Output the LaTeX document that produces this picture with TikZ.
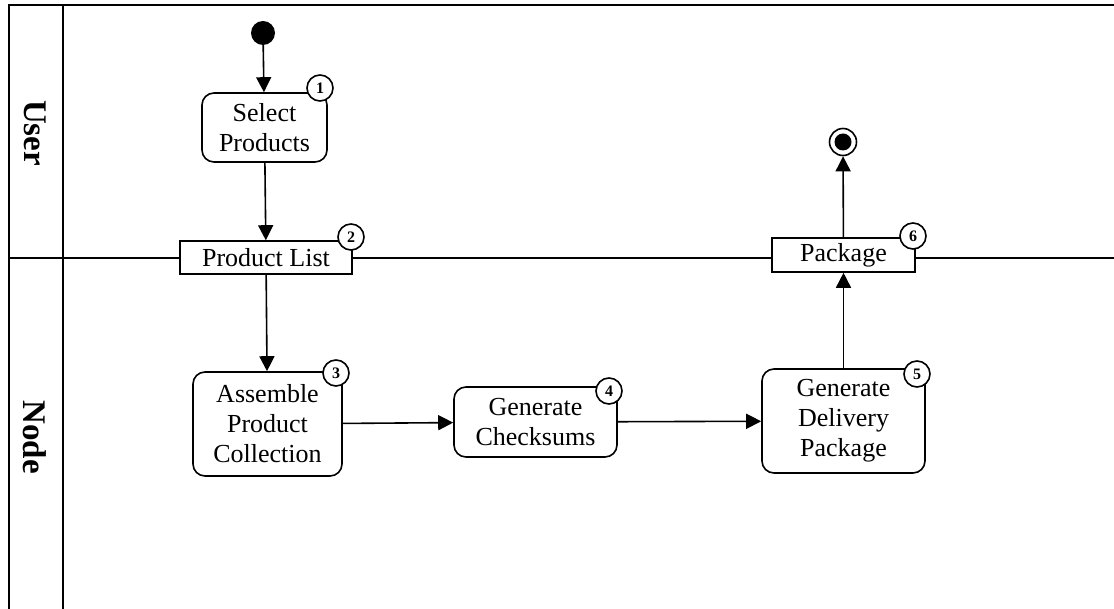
\documentclass[tikz,border=0pt]{standalone}
\usepackage{fontspec}
\setmainfont{Liberation Serif}
\usetikzlibrary{arrows.meta}

\tikzset{
  lane/.style={line width=2pt},
  lanelabel/.style={rotate=-90, font=\fontsize{33}{36}\selectfont\bfseries},
  action/.style={draw, line width=1.6pt, rounded corners=12pt, fill=white, align=center,
    inner sep=0pt, font=\fontsize{26}{30}\selectfont},
  object/.style={draw, line width=1.6pt, fill=white, inner sep=0pt, font=\fontsize{26}{30}\selectfont},
  badge/.style={draw, circle, line width=1.6pt, fill=white, minimum size=26pt, inner sep=0pt,
    font=\fontsize{16}{16}\selectfont\bfseries},
  flow/.style={line width=1.6pt, -{Triangle[length=15pt,width=15pt]}}
}

\begin{document}
\begin{tikzpicture}[x=1pt,y=1pt,yscale=-1,xscale=1]
\useasboundingbox (0,0) rectangle (1114,609);

%Swimlanes
\draw [lane] (9,609) -- (9,5) -- (1114,5) ;
\draw [lane] (63,5) -- (63,609) ;
\draw [lane] (9,258) -- (1114,258) ;

% Lane Labels
\node [lanelabel] (userlane) at (35,133) {User};
\node [lanelabel] (nodelane) at (35,437) {Node};

%Start and End
\node [circle, fill=black, minimum size=24pt, inner sep=0pt] (start) at (263,33) {};
\node [circle, draw, line width=1.6pt, fill=white, minimum size=27pt, inner sep=0pt] (finish) at (843,142) {};
\node [circle, fill=black, minimum size=17pt, inner sep=0pt] (finishdot) at (843,142) {};

%Actions
\node [action, minimum width=125pt, minimum height=69pt] (select) at (264.5,127.5) {Select\\Products};
\node [object, minimum width=172pt, minimum height=33pt] (plist) at (266,257.5) {Product List};
\node [action, minimum width=149pt, minimum height=104pt] (assemble) at (267.5,424) {Assemble\\Product\\Collection};
\node [action, minimum width=163pt, minimum height=70pt] (checksums) at (535.5,422) {Generate\\Checksums};
\node [action, minimum width=163pt, minimum height=104pt] (delivery) at (843.5,421) {Generate\\Delivery\\Package};
\node [object, minimum width=143pt, minimum height=34pt] (package) at (843.5,255) {Package};

%Badges
\node [badge] (b1) at (320,88) {1};
\node [badge] (b2) at (351,237) {2};
\node [badge] (b3) at (336,373) {3};
\node [badge] (b4) at (609,391) {4};
\node [badge] (b5) at (917,374) {5};
\node [badge] (b6) at (913,236) {6};

%Flows
\draw [flow] (start) -- (select) ;
\draw [flow] (select) -- (plist) ;
\draw [flow] (plist) -- (assemble) ;
\draw [flow] (assemble) -- (checksums) ;
\draw [flow] (checksums) -- (delivery) ;
\draw [flow] (delivery) -- (package) ;
\draw [flow] (package) -- (finish) ;

\end{tikzpicture}
\end{document}
